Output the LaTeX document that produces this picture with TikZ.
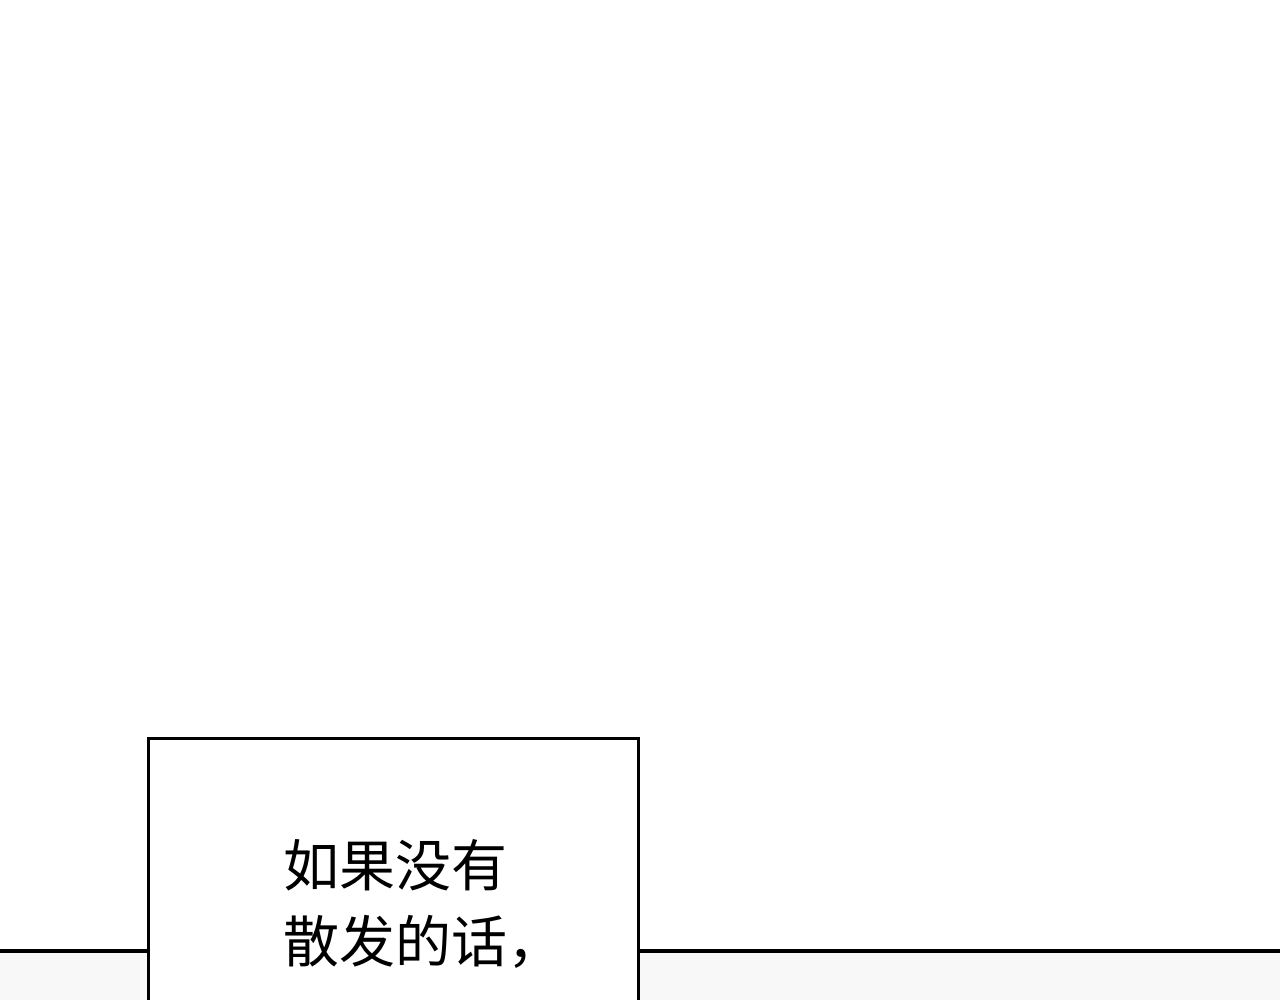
\documentclass[tikz,border=0pt]{standalone}
\usepackage{fontspec}
\newfontfamily\cjk{Noto Sans CJK SC}
\definecolor{lightbg}{HTML}{F8F8F8}
\begin{document}
\begin{tikzpicture}[x=1pt,y=-1pt]
\useasboundingbox (0,0) rectangle (1280,1000);
\fill[white] (0,0) rectangle (1280,1000);
\fill[lightbg] (0,953) rectangle (1280,1000);
\draw[line width=4pt] (0,951) -- (1280,951);
\fill[white] (148,738) rectangle (638,1002);
\draw[line width=3pt] (148,1004) -- (148,738) -- (638,738) -- (638,1004);
\node[anchor=west,align=left,inner sep=0pt,font=\cjk\fontsize{56}{76}\selectfont] (t) at (283,904) {如果没有\\散发的话，};
\end{tikzpicture}
\end{document}
